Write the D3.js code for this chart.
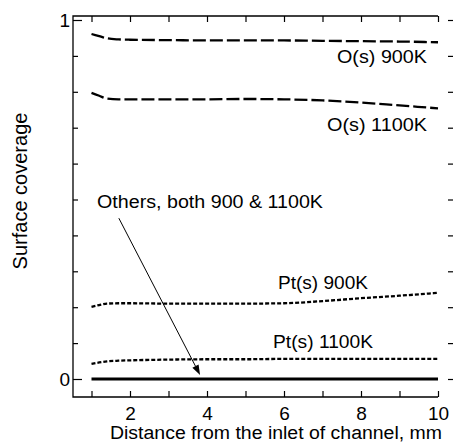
<!DOCTYPE html>
<html>
<head>
<meta charset="utf-8">
<script src="https://cdn.jsdelivr.net/npm/d3@7"></script>
<style>
  body { margin: 0; background: #fff; }
  svg { display: block; }
  text { font-family: Arial, "Liberation Sans", sans-serif; fill: #000; }
</style>
</head>
<body>
<svg id="chart" width="453" height="444"></svg>
<script>
// distance along the channel, mm
var distance = [1, 1.2, 1.4, 1.7, 2, 3, 4, 5, 6, 7, 8, 9, 10];

// surface coverage
var o900   = [0.961, 0.955, 0.949, 0.946, 0.945, 0.944, 0.943, 0.943, 0.943, 0.942, 0.941, 0.940, 0.938];
var o1100  = [0.797, 0.789, 0.781, 0.779, 0.779, 0.779, 0.779, 0.780, 0.779, 0.776, 0.770, 0.762, 0.754];
var pt900  = [0.201, 0.206, 0.210, 0.211, 0.211, 0.210, 0.210, 0.210, 0.211, 0.217, 0.225, 0.232, 0.240];
var pt1100 = [0.042, 0.046, 0.049, 0.051, 0.052, 0.054, 0.055, 0.055, 0.056, 0.056, 0.056, 0.056, 0.056];
var others = [0, 0, 0, 0, 0, 0, 0, 0, 0, 0, 0, 0, 0];

var xTickLabels = [2, 4, 6, 8, 10];
var yTickLabels = [0, 1];
var seriesNames = ["O(s) 900K", "O(s) 1100K", "Pt(s) 900K", "Pt(s) 1100K", "Others, both 900 & 1100K"];

var svg = d3.select("#chart");

// scales
var x = d3.scaleLinear().domain([1, 10]).range([91.5, 438]);
var y = d3.scaleLinear().domain([0, 1]).range([379, 20]);

var frameLeft = 73, frameRight = 438, frameTop = 16, frameBottom = 397;

// frame (left, top, bottom) - no right line, just ticks on the right
svg.append("path")
  .attr("d", "M" + frameRight + "," + frameTop + "H" + frameLeft + "V" + frameBottom + "H" + frameRight)
  .attr("stroke", "#000").attr("stroke-width", 1.3).attr("fill", "none");

// bottom ticks, pointing inward
var xAxis = svg.append("g")
  .attr("transform", "translate(0," + frameBottom + ")")
  .call(d3.axisBottom(x).tickValues(d3.range(1, 11)).tickSize(-6).tickPadding(16)
    .tickFormat(function(d) { return xTickLabels.includes(d) ? d : ""; }));
xAxis.select(".domain").remove();

// top ticks
var xTop = svg.append("g")
  .attr("transform", "translate(0," + frameTop + ")")
  .call(d3.axisTop(x).tickValues(d3.range(1, 11)).tickSize(-6).tickFormat(""));
xTop.select(".domain").remove();

// left ticks: long at 0 and 1, short in between
var yAxis = svg.append("g")
  .attr("transform", "translate(" + frameLeft + ",0)")
  .call(d3.axisLeft(y).tickValues(d3.range(0, 11).map(function(i) { return i / 10; }))
    .tickSize(-5).tickPadding(3)
    .tickFormat(function(d) { return yTickLabels.includes(d) ? d : ""; }));
yAxis.select(".domain").remove();
yAxis.selectAll(".tick line")
  .attr("x2", function(d) { return yTickLabels.includes(d) ? 9 : 5; });

// right ticks (axis itself is off the picture)
var yRight = svg.append("g")
  .attr("transform", "translate(453,0)")
  .call(d3.axisRight(y).tickValues(d3.range(0, 11).map(function(i) { return i / 10; }))
    .tickSize(-5).tickFormat(""));
yRight.select(".domain").remove();

svg.selectAll(".tick line").attr("stroke-width", 1.2);
svg.selectAll(".tick text")
  .style("font-family", "Arial, 'Liberation Sans', sans-serif")
  .style("font-size", "19px");
xAxis.selectAll(".tick text").attr("dy", "0.35em").attr("y", 16);

// lines
var line = d3.line()
  .x(function(d, i) { return x(distance[i]); })
  .y(function(d) { return y(d); })
  .curve(d3.curveMonotoneX);

var lines = [
  { values: o900,   dash: "13,4", width: 2.3 },
  { values: o1100,  dash: "13,4", width: 2.3 },
  { values: pt900,  dash: "4,2",  width: 2.3 },
  { values: pt1100, dash: "4,2",  width: 2.3 },
  { values: others, dash: null,   width: 3 }
];

svg.append("g").selectAll("path")
  .data(lines)
  .enter().append("path")
  .attr("d", function(d) { return line(d.values); })
  .attr("fill", "none")
  .attr("stroke", "#000")
  .attr("stroke-width", function(d) { return d.width; })
  .attr("stroke-dasharray", function(d) { return d.dash; });

// series labels (pixel spots)
var labelSpots = [
  { x0: 337, y0: 57,  len: 90 },
  { x0: 327, y0: 125, len: 100 },
  { x0: 278, y0: 283, len: 90 },
  { x0: 273, y0: 342, len: 100 },
  { x0: 97,  y0: 202, len: 226 }
];
svg.append("g").selectAll("text")
  .data(seriesNames)
  .enter().append("text")
  .attr("x", function(d, i) { return labelSpots[i].x0; })
  .attr("y", function(d, i) { return labelSpots[i].y0; })
  .attr("dy", "0.35em")
  .attr("textLength", function(d, i) { return labelSpots[i].len; })
  .attr("lengthAdjust", "spacingAndGlyphs")
  .style("font-size", "18px")
  .text(function(d) { return d; });

// arrow from the "Others" label down to the zero line
var arrowFrom = [1.71, 0.448], arrowTo = [3.82, 0.011];
var ax1 = x(arrowFrom[0]), ay1 = y(arrowFrom[1]), ax2 = x(arrowTo[0]), ay2 = y(arrowTo[1]);
var ang = Math.atan2(ay2 - ay1, ax2 - ax1), headLen = 10, headW = 3.5;
var bx = ax2 - headLen * Math.cos(ang), by = ay2 - headLen * Math.sin(ang);
svg.append("line")
  .attr("x1", ax1).attr("y1", ay1).attr("x2", bx).attr("y2", by)
  .attr("stroke", "#000").attr("stroke-width", 1);
svg.append("path")
  .attr("d", "M" + ax2 + "," + ay2 +
    "L" + (bx + headW * Math.sin(ang)) + "," + (by - headW * Math.cos(ang)) +
    "L" + (bx - headW * Math.sin(ang)) + "," + (by + headW * Math.cos(ang)) + "Z")
  .attr("fill", "#000");

// axis titles
svg.append("text")
  .attr("x", 110).attr("y", 433).attr("dy", "0.35em")
  .attr("textLength", 332).attr("lengthAdjust", "spacingAndGlyphs")
  .style("font-size", "18px")
  .text("Distance from the inlet of channel, mm");

svg.append("text")
  .attr("transform", "translate(20,191) rotate(-90)")
  .attr("text-anchor", "middle")
  .attr("dy", "0.35em")
  .style("font-size", "20px")
  .text("Surface coverage");
</script>
</body>
</html>
